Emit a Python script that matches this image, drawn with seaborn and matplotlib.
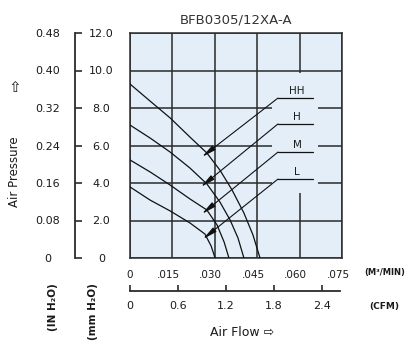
import matplotlib
matplotlib.use("Agg")
import matplotlib.pyplot as plt
import matplotlib.transforms as mtransforms
from matplotlib.patches import Rectangle
import pandas as pd
import seaborn as sns

# ---------------- data ----------------
title = "BFB0305/12XA-A"
speeds = ["HH", "H", "M", "L"]

hh_flow = [0, 0.0071, 0.0142, 0.0212, 0.0272, 0.0318, 0.0361, 0.0403, 0.0435, 0.0460]
hh_pres = [9.28, 8.37, 7.47, 6.45, 5.60, 4.69, 3.63, 2.40, 1.23, 0.0]
h_flow = [0, 0.0071, 0.0142, 0.0212, 0.0272, 0.0318, 0.0354, 0.0382, 0.0403]
h_pres = [7.09, 6.40, 5.65, 4.80, 3.95, 2.99, 2.03, 1.07, 0.0]
m_flow = [0, 0.0071, 0.0142, 0.0212, 0.0272, 0.0308, 0.0333, 0.0350]
m_pres = [5.23, 4.59, 3.89, 3.15, 2.56, 1.76, 0.85, 0.0]
l_flow = [0, 0.0071, 0.0142, 0.0212, 0.0265, 0.0287, 0.0301]
l_pres = [3.79, 3.09, 2.51, 1.87, 1.28, 0.64, 0.0]

m3_ticks = [0, 0.015, 0.030, 0.045, 0.060, 0.075]
m3_labels = ["0", ".015", ".030", ".045", ".060", ".075"]
cfm_ticks = [0, 0.6, 1.2, 1.8, 2.4]
cfm_labels = ["0", "0.6", "1.2", "1.8", "2.4"]
mm_ticks = [0, 2, 4, 6, 8, 10, 12]
mm_labels = ["0", "2.0", "4.0", "6.0", "8.0", "10.0", "12.0"]
in_ticks = [0, 0.08, 0.16, 0.24, 0.32, 0.40, 0.48]
in_labels = ["0", "0.08", "0.16", "0.24", "0.32", "0.40", "0.48"]

# ---------------- figure ----------------
sns.set_style("white")
plt.rcParams["font.family"] = ["DejaVu Sans"]
W, H = 413, 347
fig = plt.figure(figsize=(W / 100, H / 100), dpi=100)

def fx(px):
    return px / W

def fy(py):
    return 1 - py / H

TXT = "#1a1a1a"
GRID = "#2b2b2b"
BG = "#e3eef9"
NUM = dict(labelsize=8, labelcolor=TXT)

# main plot area: x 130..342, y 33..258
ax = fig.add_axes([fx(130), fy(258), (342 - 130) / W, (258 - 33) / H])
ax.set_facecolor(BG)

frames = []
for name, fl, pr in [("HH", hh_flow, hh_pres), ("H", h_flow, h_pres),
                     ("M", m_flow, m_pres), ("L", l_flow, l_pres)]:
    frames.append(pd.DataFrame({"flow": fl, "pressure": pr, "speed": name}))
df = pd.concat(frames, ignore_index=True)

sns.lineplot(data=df, x="flow", y="pressure", hue="speed", hue_order=speeds,
             palette=["#111111"] * 4, sort=False, estimator=None, legend=False,
             linewidth=0.9, ax=ax, zorder=3)

ax.set_xlim(0, 0.075)
ax.set_ylim(0, 12)
ax.set_xticks(m3_ticks)
ax.set_xticklabels(m3_labels)
ax.set_yticks(mm_ticks)
ax.set_yticklabels([])
ax.set_xlabel("")
ax.set_ylabel("")
ax.set_axisbelow(True)
ax.grid(True, color=GRID, linewidth=1.1)
ax.tick_params(axis="both", length=0)
ax.tick_params(axis="x", pad=8.5, labelsize=7.5, labelcolor=TXT)
shift = mtransforms.ScaledTranslation(-4 / 100, 0, fig.dpi_scale_trans)
for lab in ax.get_xticklabels()[1:]:
    lab.set_transform(lab.get_transform() + shift)
for s in ax.spines.values():
    s.set_visible(True)
    s.set_color(GRID)
    s.set_linewidth(1.1)

# blank area behind the speed labels (grid interrupted)
ax.add_patch(Rectangle((0.0502, 3.47), 0.0665 - 0.0502, 9.87 - 3.47,
                       facecolor=BG, edgecolor="none", zorder=1))

# leaders and speed labels
leaders = {"HH": ((0.02547, 5.39), 8.53), "H": ((0.0251, 3.79), 7.15),
           "M": ((0.02547, 2.35), 5.65), "L": ((0.0258, 1.01), 4.21)}
knee_x, end_x, lab_x = 0.05236, 0.0647, 0.0591
for name in speeds:
    tip, ky = leaders[name]
    ax.annotate("", xy=tip, xytext=(knee_x, ky),
                arrowprops=dict(arrowstyle="-|>,head_length=0.85,head_width=0.16",
                                color="#111111", lw=0.8, shrinkA=0, shrinkB=0,
                                mutation_scale=10), zorder=4)
    ax.plot([knee_x, end_x], [ky, ky], color="#111111", lw=0.9, zorder=4)
    ax.text(lab_x, ky + 0.12, name, ha="center", va="bottom", fontsize=7.5,
            color=TXT, zorder=5)

ax.text(0.5, 1.03, title, transform=ax.transAxes, ha="center", va="bottom",
        fontsize=9.5, color="#333333")

# mmH2O scale
ax_mm = fig.add_axes([fx(75), fy(258), 0.0001, (258 - 33) / H])
ax_mm.set_ylim(0, 12)
ax_mm.set_yticks(mm_ticks)
ax_mm.set_yticklabels(mm_labels)
ax_mm.set_xticks([])
for k in ["top", "right", "bottom"]:
    ax_mm.spines[k].set_visible(False)
ax_mm.spines["left"].set_color(GRID)
ax_mm.spines["left"].set_linewidth(1.3)
ax_mm.set_facecolor("none")
ax_mm.tick_params(axis="y", left=True, direction="in", length=5, width=1.2,
                  color=GRID, pad=-19, **NUM)
for lab in ax_mm.get_yticklabels():
    lab.set_horizontalalignment("center")

# inH2O scale
ax_in = fig.add_axes([fx(48), fy(258), 0.0001, (258 - 33) / H])
ax_in.set_ylim(0, 0.48)
ax_in.set_yticks(in_ticks)
ax_in.set_yticklabels(in_labels)
ax_in.set_xticks([])
for s in ax_in.spines.values():
    s.set_visible(False)
ax_in.set_facecolor("none")
ax_in.tick_params(axis="y", length=0, pad=0, **NUM)
for lab in ax_in.get_yticklabels():
    lab.set_horizontalalignment("center")

# CFM scale under the plot
ax_b = fig.add_axes([fx(130), fy(291), (340 - 130) / W, 0.0001])
ax_b.set_xlim(0, (340 - 130) / (342 - 130) * 0.075 / 0.0283168)
ax_b.set_xticks(cfm_ticks)
ax_b.set_xticklabels(cfm_labels)
ax_b.set_xticks([0], minor=True)
ax_b.set_yticks([])
for k in ["top", "right", "left"]:
    ax_b.spines[k].set_visible(False)
ax_b.spines["bottom"].set_color(GRID)
ax_b.spines["bottom"].set_linewidth(1.3)
ax_b.set_facecolor("none")
ax_b.tick_params(axis="x", which="major", bottom=True, direction="in", length=4.5,
                 width=1.2, color=GRID, pad=7, **NUM)
ax_b.tick_params(axis="x", which="minor", bottom=True, direction="in", length=14,
                 width=1.2, color=GRID)

# axis texts
fig.text(fx(385), fy(273), "(M³/MIN)", ha="center", va="center", fontsize=6,
         fontweight="bold", color=TXT)
fig.text(fx(384), fy(306), "(CFM)", ha="center", va="center", fontsize=6.5,
         fontweight="bold", color=TXT)
fig.text(fx(242), fy(332), "Air Flow \u21e8", ha="center", va="center",
         fontsize=9, color=TXT)
fig.text(fx(15), fy(172), "Air Pressure", ha="center", va="center",
         rotation=90, fontsize=8.5, color=TXT)
fig.text(fx(15), fy(88), "\u21e7", ha="center", va="center", fontsize=11,
         color=TXT)
fig.text(fx(53), fy(283), "(IN H\u2082O)", ha="center", va="top", rotation=90,
         fontsize=7.5, fontweight="bold", color=TXT)
fig.text(fx(93), fy(283), "(mm H\u2082O)", ha="center", va="top", rotation=90,
         fontsize=7.5, fontweight="bold", color=TXT)

fig.savefig("out.png", dpi=100, facecolor="white")
